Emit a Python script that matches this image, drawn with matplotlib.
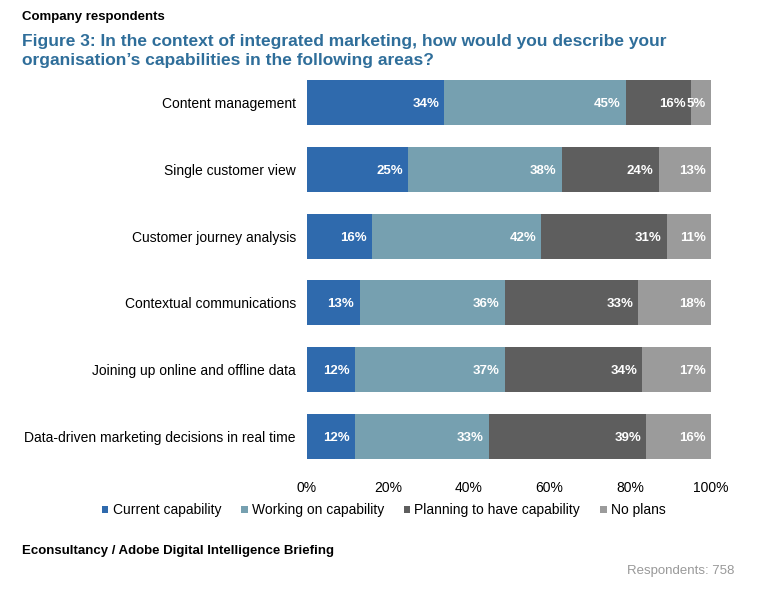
import numpy as np
import matplotlib.pyplot as plt
from matplotlib.patches import Patch

plt.rcParams['font.family'] = ['Liberation Sans', 'DejaVu Sans']

# ---------------------------------------------------------------------------
# Data (percent of company respondents)
# ---------------------------------------------------------------------------
areas = ['Content management',
         'Single customer view',
         'Customer journey analysis',
         'Contextual communications',
         'Joining up online and offline data',
         'Data-driven marketing decisions in real time']
current = [34, 25, 16, 13, 12, 12]
working = [45, 38, 42, 36, 37, 33]
planning = [16, 24, 31, 33, 34, 39]
no_plans = [5, 13, 11, 18, 17, 16]

series_names = ['Current capability', 'Working on capability',
                'Planning to have capability', 'No plans']
colours = ['#2f6aad', '#76a0b0', '#5e5e5e', '#9b9b9b']
xticks = [0, 20, 40, 60, 80, 100]

fig = plt.figure(figsize=(7.8, 5.94), dpi=100)
ax = fig.add_axes([0.3936, 0.2273, 0.518, 0.638])

y = np.arange(len(areas))
left = np.zeros(len(areas))
for vals, col in zip([current, working, planning, no_plans], colours):
    vals = np.array(vals, dtype=float)
    ax.barh(y, vals, left=left, height=0.672, color=col, edgecolor='none')
    for yi, l, v in zip(y, left, vals):
        ax.text(l + v - 1.3, yi, '{:.0f}%'.format(v), ha='right',
                va='center_baseline', color='white', fontsize=9.5,
                fontweight='bold')
    left += vals

ax.set_xlim(0, 100)
ax.set_ylim(len(areas) - 1 + 0.336, -0.336)
ax.set_yticks(y)
ax.set_yticklabels(areas, fontsize=10)
ax.set_xticks(xticks)
ax.set_xticklabels(['{}%'.format(t) for t in xticks], fontsize=10)
ax.tick_params(axis='y', length=0, pad=8)
ax.tick_params(axis='x', length=0, pad=16)
for s in ax.spines.values():
    s.set_visible(False)

handles = [Patch(facecolor=c, edgecolor='none') for c in colours]
fig.legend(handles, series_names, loc='center left', bbox_to_anchor=(0.115, 0.141),
           ncol=4, frameon=False, fontsize=10, handlelength=0.45, handleheight=0.45,
           handletextpad=0.3, columnspacing=1.45)

fig.text(0.028, 0.972, 'Company respondents', fontsize=9.5, fontweight='bold',
         va='center', ha='left')
fig.text(0.028, 0.914, 'Figure 3: In the context of integrated marketing, how would you describe your\n'
         'organisation\u2019s capabilities in the following areas?',
         fontsize=12.5, fontweight='bold', color='#2f6e9a', va='center', ha='left',
         linespacing=1.4)
fig.text(0.028, 0.072, 'Econsultancy / Adobe Digital Intelligence Briefing', fontsize=9.5,
         fontweight='bold', va='center', ha='left')
fig.text(0.942, 0.038, 'Respondents: 758', fontsize=9.5, color='#999999',
         va='center', ha='right')

fig.savefig('out.png', dpi=100)
